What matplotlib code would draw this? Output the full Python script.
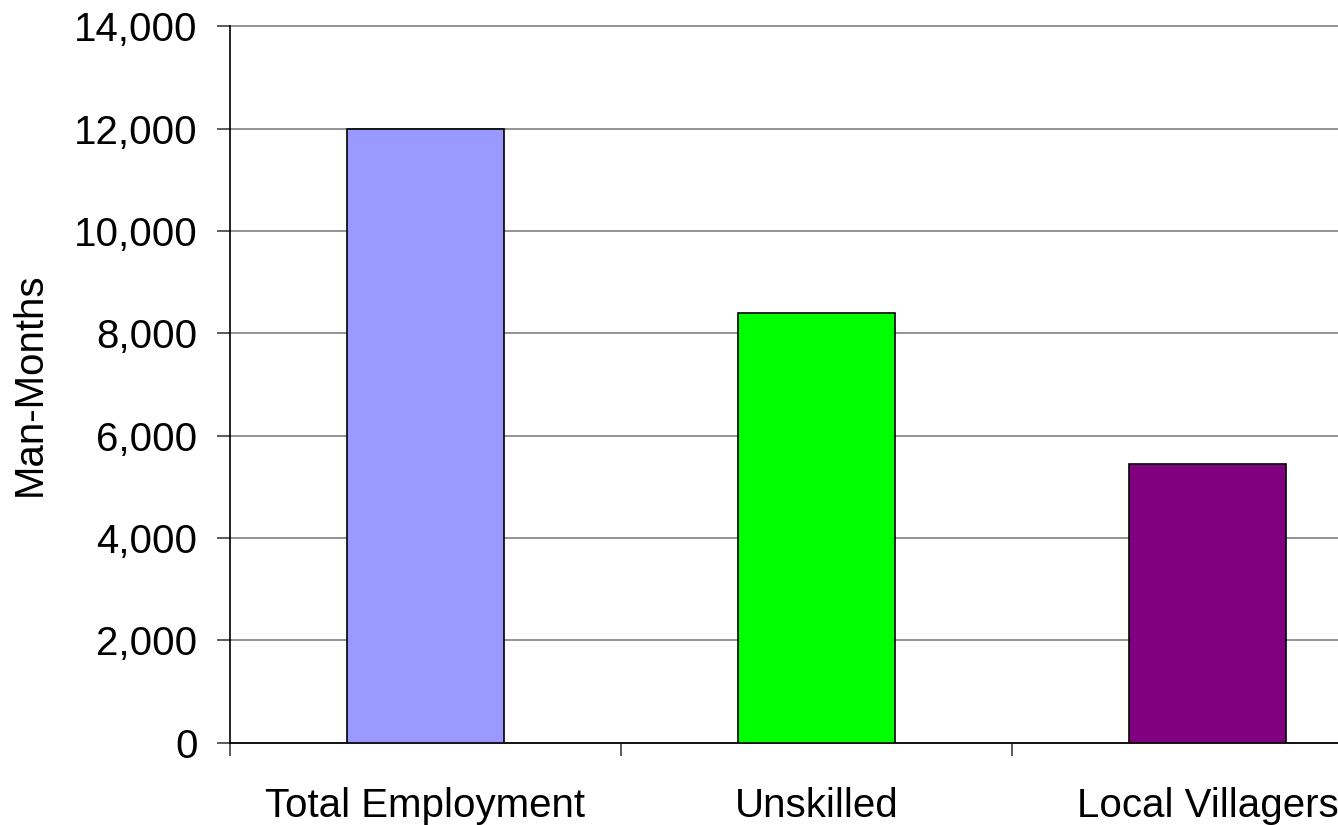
import numpy as np
import matplotlib.pyplot as plt
from matplotlib.ticker import FuncFormatter, FixedLocator

# Data
categories = ['Total Employment', 'Unskilled', 'Local Villagers']
man_months = [12000, 8400, 5450]
colors = ['#9999ff', '#00ff00', '#800080']

plt.rcParams['font.family'] = ['Liberation Sans', 'DejaVu Sans']

fig = plt.figure(figsize=(13.38, 8.25), dpi=100)
# axes extends past the right edge, like the cropped original
ax = fig.add_axes([230 / 1338, (825 - 742.7) / 825, 1173 / 1338, 716.2 / 825])

x = np.arange(len(categories))
ax.bar(x, man_months, width=0.4, color=colors, edgecolor='black', linewidth=1.2, zorder=3)

ax.set_xlim(-0.5, len(categories) - 0.5)
ax.set_ylim(0, 14000)
ax.set_yticks(np.arange(0, 14001, 2000))
ax.yaxis.set_major_formatter(FuncFormatter(lambda v, p: f'{int(v):,}'))
ax.yaxis.grid(True, color='#808080', linewidth=1.2, zorder=0)
for gl in ax.get_ygridlines():
    gl.set_clip_on(False)

# category labels centred, tick marks on category boundaries
ax.set_xticks(x)
ax.set_xticklabels(categories)
ax.tick_params(axis='x', which='major', length=0, pad=32, labelsize=29)
ax.xaxis.set_minor_locator(FixedLocator(np.arange(-0.5, len(categories), 1.0)))
ax.tick_params(axis='x', which='minor', length=9.4, width=1.2, color='#404040')
ax.tick_params(axis='y', length=9.4, width=1.2, color='#404040', pad=14, labelsize=29)

for side in ['top', 'right']:
    ax.spines[side].set_visible(False)
ax.spines['left'].set_linewidth(1.2)
ax.spines['bottom'].set_linewidth(1.2)

ax.set_ylabel('Man-Months', fontsize=29, labelpad=18)

fig.savefig('out.png', dpi=100)
